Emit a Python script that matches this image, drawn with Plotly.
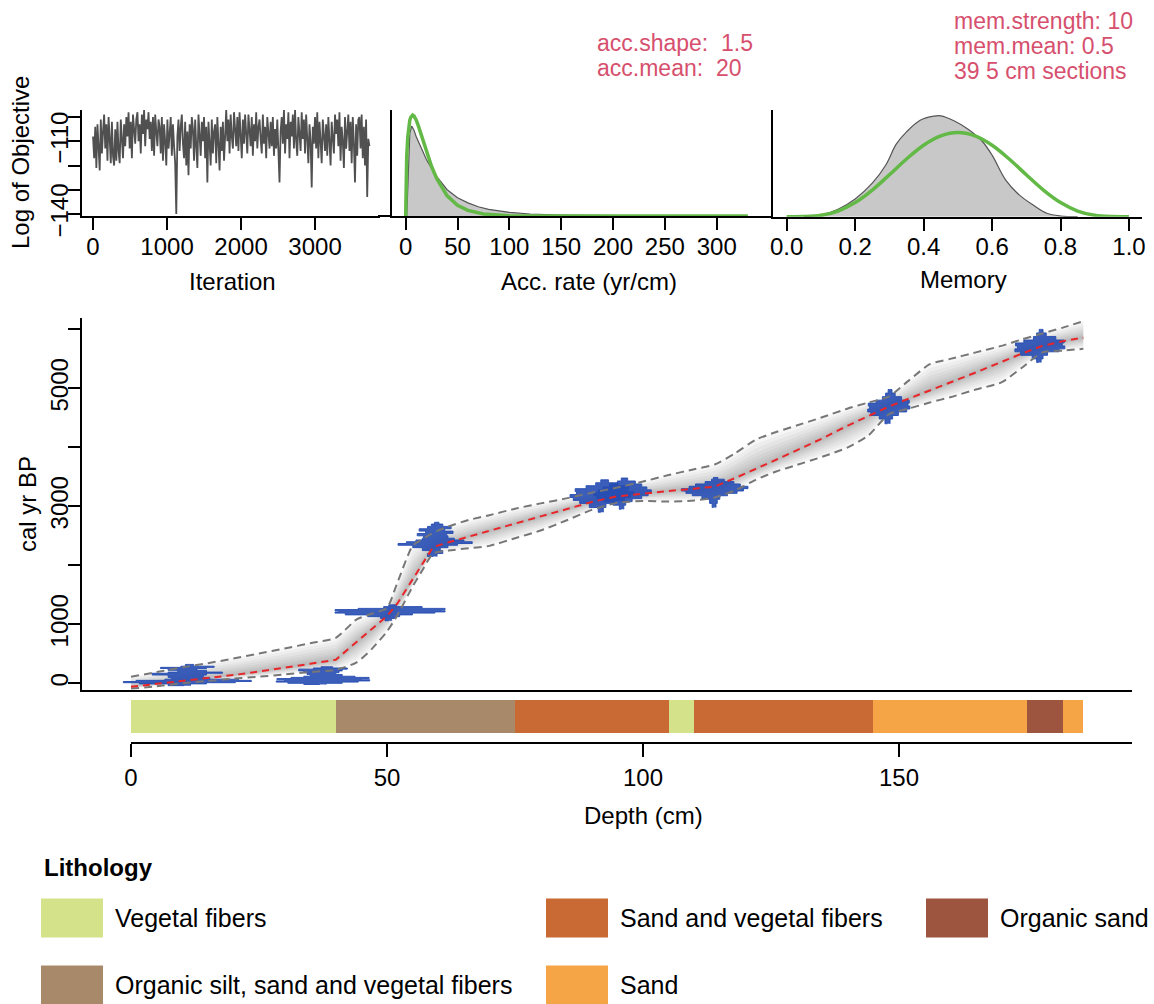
import numpy as np
import plotly.graph_objects as go

W, H = 1154, 1004
FONT = "Liberation Sans, Arial, sans-serif"
MINUS = "\u2212"

# ---------------- data ----------------
ITER_STEP = 15  # iterations between stored values
log_objective = [
    -108, -117, -104, -121, -103, -112, -122, -101, -115, -106,
    -99, -113, -103, -118, -100, -109, -119, -102, -116, -120,
    -105, -118, -102, -114, -119, -101, -110, -117, -103, -112,
    -100, -108, -98, -113, -102, -117, -99, -106, -111, -101,
    -98, -110, -103, -115, -99, -107, -97, -112, -101, -105,
    -98, -109, -102, -114, -100, -116, -99, -106, -112, -101,
    -104, -115, -100, -118, -103, -110, -120, -101, -113, -107,
    -100, -116, -103, -112, -119, -140, -108, -101, -114, -104,
    -99, -111, -117, -102, -120, -106, -124, -103, -113, -100,
    -105, -118, -101, -112, -121, -99, -109, -116, -102, -110,
    -100, -117, -104, -127, -102, -113, -120, -101, -115, -106,
    -103, -119, -100, -111, -122, -104, -114, -102, -118, -108,
    -97, -110, -101, -115, -99, -108, -113, -98, -106, -112,
    -100, -114, -98, -109, -117, -101, -111, -99, -107, -115,
    -99, -106, -112, -100, -116, -103, -110, -98, -113, -104,
    -101, -109, -115, -99, -111, -104, -117, -100, -108, -113,
    -102, -112, -100, -116, -105, -113, -101, -118, -127, -106,
    -100, -111, -97, -115, -103, -109, -98, -117, -102, -108,
    -99, -113, -97, -110, -116, -100, -106, -114, -98, -109,
    -101, -115, -99, -112, -119, -103, -110, -129, -104, -111,
    -100, -113, -98, -117, -102, -110, -119, -101, -108, -114,
    -103, -116, -100, -111, -120, -102, -109, -115, -99, -107,
    -101, -112, -98, -118, -104, -110, -121, -100, -113, -106,
    -99, -114, -102, -119, -100, -111, -127, -103, -116, -101,
    -100, -113, -99, -117, -104, -120, -101, -133, -109, -112,
]

acc_post_x = [1, 2, 3, 4, 5.8, 8, 10, 15, 20, 25, 30, 40, 50, 60, 70, 80, 100, 120, 150, 200, 250, 330]
acc_post_y = [0, 0.35, 0.65, 0.82, 0.89, 0.85, 0.79, 0.67, 0.56, 0.47, 0.39, 0.26, 0.18, 0.13,
              0.092, 0.066, 0.036, 0.02, 0.01, 0.004, 0.001, 0.0]
acc_prior_x = [0, 0.5, 1, 2, 3, 4, 5, 6.7, 8, 10, 12, 15, 20, 25, 30, 40, 50, 60, 75, 100, 150, 330]
acc_prior_y = [0, 0.42, 0.59, 0.78, 0.88, 0.95, 0.98, 1.0, 0.99, 0.954, 0.9, 0.80, 0.64, 0.49,
               0.37, 0.20, 0.106, 0.055, 0.02, 0.0035, 0.0, 0.0]

mem_post_x = [0.05, 0.10, 0.15, 0.20, 0.25, 0.29, 0.32, 0.35, 0.39, 0.43, 0.45, 0.49, 0.53,
              0.57, 0.60, 0.64, 0.68, 0.72, 0.76, 0.80, 0.85]
mem_post_y = [0.0, 0.05, 0.22, 0.52, 0.98, 1.52, 2.12, 2.48, 2.82, 2.94, 2.95, 2.80, 2.56,
              2.22, 1.80, 1.07, 0.63, 0.34, 0.10, 0.02, 0.0]
mem_prior_x = [0, 0.05, 0.1, 0.15, 0.2, 0.25, 0.3, 0.35, 0.4, 0.45, 0.5, 0.55, 0.6, 0.65,
               0.7, 0.75, 0.8, 0.85, 0.9, 0.95, 1.0]
mem_prior_y = [0, 0.003, 0.041, 0.166, 0.413, 0.778, 1.225, 1.687, 2.09, 2.363, 2.461, 2.363,
               2.09, 1.687, 1.225, 0.778, 0.413, 0.166, 0.041, 0.003, 0]

model_depth = [0, 5, 10, 15, 20, 25, 30, 35, 40, 44, 47, 50, 52, 55, 57, 59, 62, 66, 70, 75,
               80, 85, 90, 95, 100, 105, 110, 114, 118, 122, 126, 130, 135, 140, 144, 148,
               152, 156, 160, 165, 170, 174, 178, 182, 186]
age_mean = [-60, -10, 35, 85, 140, 200, 260, 330, 400, 690, 910, 1140, 1350, 1760, 2040, 2310,
            2390, 2490, 2590, 2710, 2830, 2950, 3075, 3170, 3220, 3260, 3300, 3335, 3480, 3630,
            3790, 3950, 4150, 4370, 4530, 4690, 4830, 4970, 5100, 5270, 5450, 5590, 5720, 5800,
            5860]
age_upper = [110, 190, 270, 340, 420, 505, 590, 680, 770, 1080, 1180, 1280, 1700, 2330, 2450,
             2550, 2660, 2770, 2850, 2960, 3050, 3135, 3230, 3320, 3420, 3530, 3630, 3710, 3900,
             4130, 4260, 4370, 4510, 4660, 4760, 4860, 5140, 5410, 5500, 5610, 5720, 5830, 5930,
             6030, 6140]
age_lower = [-90, -50, 0, 40, 80, 112, 150, 190, 230, 350, 580, 880, 1150, 1640, 1930, 2200,
             2250, 2290, 2330, 2460, 2590, 2760, 2940, 3060, 3090, 3080, 3100, 3150, 3270, 3450,
             3590, 3700, 3840, 4000, 4200, 4560, 4660, 4760, 4850, 4980, 5100, 5350, 5610, 5640,
             5670]

date_depths = [11, 37.5, 50.6, 59.4, 92, 96, 114, 148, 177.5]
date_ages = [
    [-40, -10, 10, 30, 50, 70, 100, 140, 170, 190, 220, 250, 270, 290, 320],
    [-20, 0, 20, 40, 60, 80, 100, 120, 150, 180, 210, 240, 260, 280],
    [1060, 1100, 1130, 1160, 1190, 1210, 1230, 1250, 1270, 1300, 1330],
    [2150, 2200, 2250, 2300, 2340, 2370, 2400, 2430, 2460, 2500, 2540, 2580, 2620, 2660, 2700, 2730],
    [2900, 2980, 3050, 3100, 3150, 3200, 3250, 3300, 3350, 3400, 3450],
    [2950, 3020, 3080, 3130, 3180, 3230, 3280, 3330, 3380, 3430, 3480],
    [2980, 3050, 3120, 3180, 3220, 3260, 3300, 3340, 3380, 3420, 3460, 3490],
    [4400, 4480, 4540, 4600, 4650, 4700, 4750, 4800, 4860, 4920, 4980],
    [5440, 5500, 5560, 5620, 5670, 5720, 5770, 5820, 5880, 5940, 6000],
]
date_probs = [
    [0.05, 0.3, 0.75, 1.0, 0.8, 0.35, 0.25, 0.3, 0.55, 0.3, 0.15, 0.3, 0.42, 0.1, 0.03],
    [0.05, 0.3, 0.55, 0.73, 0.6, 0.72, 0.5, 0.3, 0.2, 0.25, 0.3, 0.38, 0.15, 0.03],
    [0.02, 0.08, 0.15, 0.35, 0.7, 0.86, 0.8, 0.86, 0.5, 0.1, 0.02],
    [0.03, 0.12, 0.08, 0.2, 0.35, 0.58, 0.45, 0.3, 0.2, 0.18, 0.28, 0.15, 0.25, 0.12, 0.06, 0.01],
    [0.02, 0.06, 0.2, 0.35, 0.45, 0.5, 0.4, 0.42, 0.25, 0.1, 0.02],
    [0.02, 0.05, 0.15, 0.3, 0.4, 0.45, 0.38, 0.3, 0.2, 0.08, 0.02],
    [0.02, 0.04, 0.08, 0.2, 0.35, 0.45, 0.52, 0.4, 0.3, 0.15, 0.05, 0.02],
    [0.02, 0.06, 0.15, 0.28, 0.33, 0.3, 0.32, 0.2, 0.1, 0.05, 0.01],
    [0.02, 0.05, 0.12, 0.3, 0.39, 0.35, 0.38, 0.25, 0.1, 0.05, 0.01],
]

litho_top = [0, 40, 75, 105, 110, 145, 175, 182]
litho_bottom = [40, 75, 105, 110, 145, 175, 182, 186]
litho_type = ["Vegetal fibers", "Organic silt, sand and vegetal fibers", "Sand and vegetal fibers",
              "Vegetal fibers", "Sand and vegetal fibers", "Sand", "Organic sand", "Sand"]

legend_names = ["Vegetal fibers", "Organic silt, sand and vegetal fibers",
                "Sand and vegetal fibers", "Sand", "Organic sand"]
legend_colors = ["#d4e38a", "#a88a6a", "#c96a35", "#f5a545", "#9e5540"]

iter_ticks = [0, 1000, 2000, 3000]
acc_ticks = [0, 50, 100, 150, 200, 250, 300]
mem_ticks = [0.0, 0.2, 0.4, 0.6, 0.8, 1.0]
obj_ticks = [-140, -130, -120, -110, -100]
obj_labels = [MINUS + "140", "", "", MINUS + "110", ""]
age_ticks = [0, 1000, 2000, 3000, 4000, 5000, 6000]
age_labels = ["0", "1000", "", "3000", "", "5000", ""]
depth_ticks = [0, 50, 100, 150]

# ---------------- helpers ----------------
def px(x):
    return x / W

def py(y):
    return 1 - y / H

color_of = dict(zip(legend_names, legend_colors))
GREEN = "#63b946"
RED_TXT = "#d6506e"
DATE_SCALE = 12.5  # cm of half-width per unit probability

fig = go.Figure()

iters = np.arange(len(log_objective)) * ITER_STEP
fig.add_trace(go.Scatter(x=iters, y=log_objective, mode="lines",
                         line=dict(color="#505050", width=1.8), xaxis="x", yaxis="y",
                         showlegend=False, hoverinfo="skip"))

fig.add_trace(go.Scatter(x=acc_post_x, y=acc_post_y, mode="lines", fill="tozeroy",
                         fillcolor="#c8c8c8", line=dict(color="#555555", width=1.2),
                         xaxis="x2", yaxis="y2", showlegend=False, hoverinfo="skip"))
fig.add_trace(go.Scatter(x=acc_prior_x, y=acc_prior_y, mode="lines",
                         line=dict(color=GREEN, width=3.5), xaxis="x2", yaxis="y2",
                         showlegend=False, hoverinfo="skip"))

fig.add_trace(go.Scatter(x=mem_post_x, y=mem_post_y, mode="lines", fill="tozeroy",
                         fillcolor="#c8c8c8", line=dict(color="#555555", width=1.2, shape="spline"),
                         xaxis="x3", yaxis="y3", showlegend=False, hoverinfo="skip"))
fig.add_trace(go.Scatter(x=mem_prior_x, y=mem_prior_y, mode="lines",
                         line=dict(color=GREEN, width=3.5, shape="spline"), xaxis="x3", yaxis="y3",
                         showlegend=False, hoverinfo="skip"))

md = np.array(model_depth, float)
am = np.array(age_mean, float)
au = np.array(age_upper, float)
al = np.array(age_lower, float)
for f in [1.0, 0.85, 0.7, 0.55, 0.42, 0.3, 0.2, 0.1]:
    up = am + f * (au - am)
    lo = am - f * (am - al)
    fig.add_trace(go.Scatter(x=np.concatenate([md, md[::-1]]),
                             y=np.concatenate([up, lo[::-1]]),
                             mode="lines", fill="toself", fillcolor="rgba(0,0,0,0.035)",
                             line=dict(width=0), xaxis="x4", yaxis="y4",
                             showlegend=False, hoverinfo="skip"))

for d, a, p in zip(date_depths, date_ages, date_probs):
    a = np.array(a, float)
    w = np.array(p, float) * DATE_SCALE
    xs = np.concatenate([d + w, (d - w)[::-1]])
    ys = np.concatenate([a, a[::-1]])
    fig.add_trace(go.Scatter(x=xs, y=ys, mode="lines", fill="toself",
                             fillcolor="rgba(38,76,178,0.9)",
                             line=dict(color="rgba(38,76,178,0.9)", width=1, shape="vh"),
                             xaxis="x4", yaxis="y4", showlegend=False, hoverinfo="skip"))

for arr in (au, al):
    fig.add_trace(go.Scatter(x=md, y=arr, mode="lines",
                             line=dict(color="#777777", width=2, dash="8px,5px", shape="spline",
                                       smoothing=0.6),
                             xaxis="x4", yaxis="y4", showlegend=False, hoverinfo="skip"))
fig.add_trace(go.Scatter(x=md, y=am, mode="lines",
                         line=dict(color="#e8262a", width=2, dash="7px,5px"),
                         xaxis="x4", yaxis="y4", showlegend=False, hoverinfo="skip"))

fig.add_trace(go.Bar(x=[b - t for t, b in zip(litho_top, litho_bottom)], base=litho_top,
                     y=[25.5] * len(litho_top), width=33, orientation="h",
                     marker=dict(color=[color_of[t] for t in litho_type], line=dict(width=0)),
                     xaxis="x5", yaxis="y5", showlegend=False, hoverinfo="skip"))

tickfont = dict(family=FONT, size=24, color="black")
base_ax = dict(showgrid=False, zeroline=False, showline=True, linecolor="black", linewidth=1.6,
               ticks="outside", ticklen=12, tickwidth=1.6, tickcolor="black", tickfont=tickfont,
               automargin=False)

layout = dict(
    template="none",
    width=W, height=H, autosize=False,
    margin=dict(l=0, r=0, t=0, b=0, pad=0, autoexpand=False),
    paper_bgcolor="white", plot_bgcolor="rgba(0,0,0,0)", font=dict(family=FONT, size=24),
    showlegend=False, bargap=0,
    xaxis=dict(base_ax, domain=[px(82), px(380)], range=[-149, 3878], anchor="y",
               tickvals=iter_ticks, ticklabelstandoff=-4),
    yaxis=dict(base_ax, domain=[py(216), py(110)], range=[-140.8, -97.1], anchor="x",
               tickvals=obj_ticks, ticktext=obj_labels, tickangle=-90, ticklabelstandoff=-9),
    xaxis2=dict(base_ax, domain=[px(392), px(762)], range=[-13.2, 343.7], anchor="y2",
                tickvals=acc_ticks, ticklabelstandoff=-4),
    yaxis2=dict(base_ax, domain=[py(216), py(110)], range=[0, 1.0495], anchor="x2",
                tickvals=[0], ticktext=[""]),
    xaxis3=dict(base_ax, domain=[px(773), px(1142)], range=[-0.04, 1.038], anchor="y3",
                tickvals=mem_ticks, ticktext=["%.1f" % v for v in mem_ticks], ticklabelstandoff=-4),
    yaxis3=dict(base_ax, domain=[py(216.7), py(110)], range=[0, 3.12], anchor="x3",
                tickvals=[0], ticktext=[""]),
    xaxis4=dict(base_ax, domain=[px(82), px(1132)], range=[-9.57, 195.5], anchor="y4",
                ticks="", showticklabels=False),
    yaxis4=dict(base_ax, domain=[py(690), py(318)], range=[-113.6, 6193], anchor="x4",
                tickvals=age_ticks, ticktext=age_labels, tickangle=-90, ticklabelstandoff=-9),
    xaxis5=dict(base_ax, domain=[px(131), px(1132)], range=[0, 195.5], anchor="y5",
                tickvals=depth_ticks, ticklen=13, ticklabelstandoff=0),
    yaxis5=dict(domain=[py(742), py(698)], range=[0, 44], anchor="x5", visible=False,
                automargin=False),
)

ann = []
def text(x, y, s, size=24, color="black", xanchor="center", angle=0, bold=False):
    if bold:
        s = "<b>" + s + "</b>"
    ann.append(dict(x=px(x), y=py(y), xref="paper", yref="paper", text=s, showarrow=False,
                    xanchor=xanchor, yanchor="middle", textangle=angle,
                    font=dict(family=FONT, size=size, color=color)))

text(21, 163, "Log of Objective", angle=-90)
text(232, 281, "Iteration")
text(589, 281, "Acc. rate (yr/cm)")
text(964, 279, "Memory")
text(27, 504, "cal yr BP", angle=-90)
text(643, 815, "Depth (cm)")

text(595, 43, "acc.shape:  1.5", size=23, color=RED_TXT, xanchor="left")
text(595, 67.5, "acc.mean:  20", size=23, color=RED_TXT, xanchor="left")
text(952, 21.5, "mem.strength: 10", size=23, color=RED_TXT, xanchor="left")
text(952, 46, "mem.mean: 0.5", size=23, color=RED_TXT, xanchor="left")
text(952, 70.5, "39 5 cm sections", size=23, color=RED_TXT, xanchor="left")

text(42, 867, "Lithology", size=24, xanchor="left", bold=True)
legend_pos = [(41, 918), (41, 985), (546, 918), (546, 985), (926, 918)]
shapes = []
for name, col, (lx, ly) in zip(legend_names, legend_colors, legend_pos):
    shapes.append(dict(type="rect", xref="paper", yref="paper", x0=px(lx), x1=px(lx + 62),
                       y0=py(ly - 19.5), y1=py(ly + 19.5), fillcolor=col, line=dict(width=0)))
    text(lx + 72, ly, name, size=25, xanchor="left")

layout["annotations"] = ann
layout["shapes"] = shapes
fig.update_layout(**layout)
fig.write_html("out.html")
